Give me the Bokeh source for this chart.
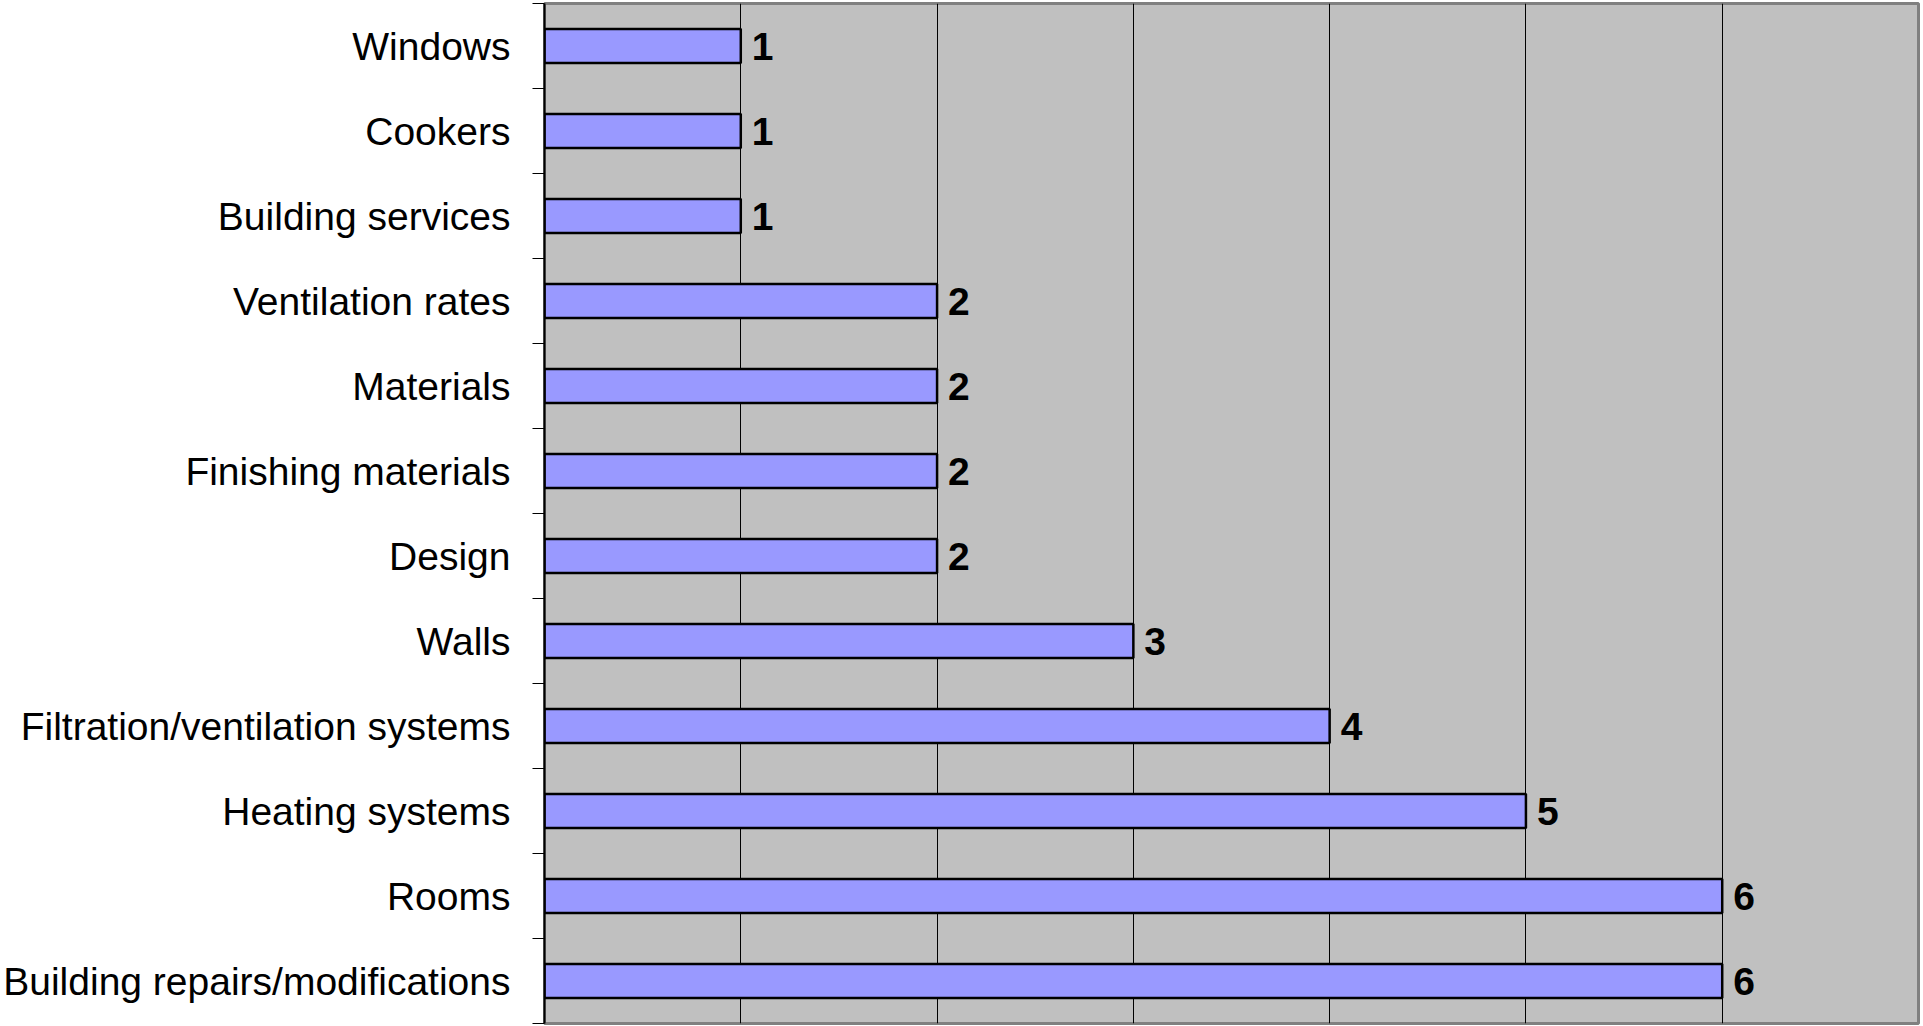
from bokeh.plotting import figure
from bokeh.models import FixedTicker, SingleIntervalTicker, ColumnDataSource
from bokeh.core.properties import value
from bokeh.embed import file_html
from bokeh.resources import INLINE

# Categories listed bottom to top
categories = [
    "Building repairs/modifications",
    "Rooms",
    "Heating systems",
    "Filtration/ventilation systems",
    "Walls",
    "Design",
    "Finishing materials",
    "Materials",
    "Ventilation rates",
    "Building services",
    "Cookers",
    "Windows",
]
counts = [6, 6, 5, 4, 3, 2, 2, 2, 2, 1, 1, 1]

n = len(categories)
pos = [i + 0.5 for i in range(n)]
src = ColumnDataSource(dict(y=pos, right=counts, lab=[str(c) for c in counts]))

p = figure(width=1923, height=1026, output_backend="svg", toolbar_location=None,
           x_range=(0, 7), y_range=(0, n),
           min_border_left=544, min_border_right=5, min_border_top=3, min_border_bottom=3)

p.background_fill_color = "#C0C0C0"
p.border_fill_color = "white"
p.outline_line_color = "#808080"
p.outline_line_width = 3

p.hbar(y="y", left=0, right="right", height=0.4, source=src,
       fill_color="#9999FF", line_color="black", line_width=2.5)

p.text(x="right", y="y", text="lab", source=src, x_offset=11,
       text_baseline="middle", text_align="left",
       text_font=value("Liberation Sans"), text_font_style="bold",
       text_font_size="39px", text_color="black")

# x axis hidden, vertical grid at integer values
p.xaxis.visible = False
p.xgrid.ticker = SingleIntervalTicker(interval=1)
p.xgrid.grid_line_color = "black"
p.xgrid.grid_line_width = 1
p.ygrid.grid_line_color = None

yax = p.yaxis[0]
yax.ticker = FixedTicker(ticks=pos, minor_ticks=list(range(n + 1)))
yax.major_label_overrides = {pt: c for pt, c in zip(pos, categories)}
yax.major_tick_line_color = None
yax.major_tick_out = 12
yax.major_tick_in = 0
yax.minor_tick_line_color = "black"
yax.minor_tick_out = 12
yax.minor_tick_in = 0
yax.axis_line_color = "black"
yax.axis_line_width = 2
yax.major_label_standoff = 22
yax.major_label_text_font = "Liberation Sans"
yax.major_label_text_font_size = "39px"
yax.major_label_text_color = "black"

open("out.html", "w").write(file_html(p, INLINE))
